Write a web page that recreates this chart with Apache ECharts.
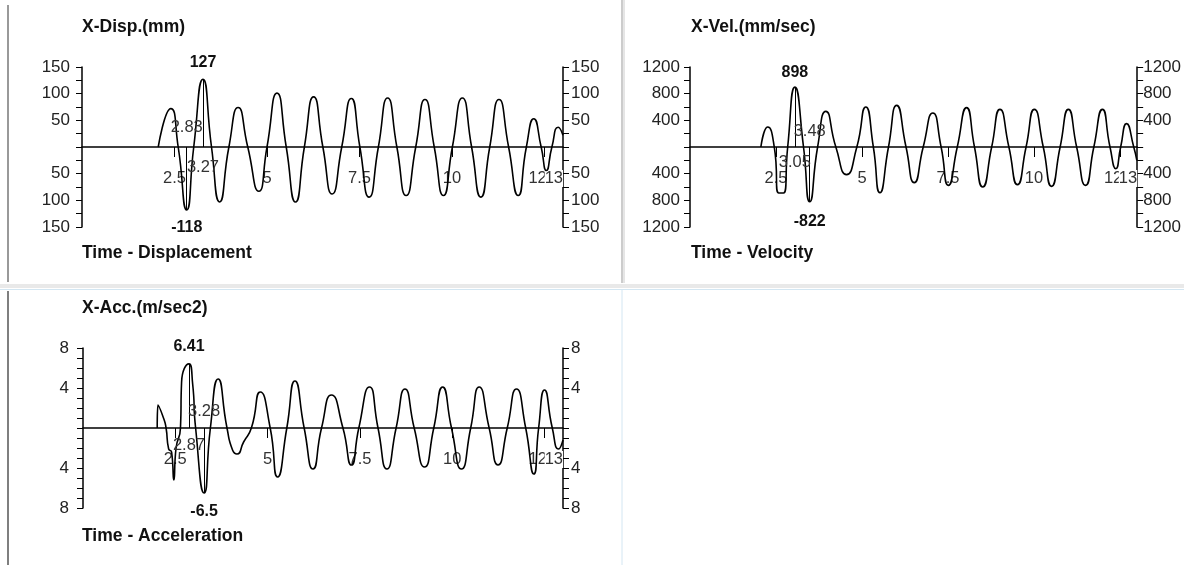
<!DOCTYPE html>
<html>
<head>
<meta charset="utf-8">
<title>Time history</title>
<script src="https://cdn.jsdelivr.net/npm/echarts@6.0.0/dist/echarts.min.js"></script>
<style>
  html, body { margin: 0; padding: 0; background: #fff; }
  #main { width: 1184px; height: 565px; }
</style>
</head>
<body>
<div id="main"></div>
<script>
// time axis labels; the end label 13 is drawn over 12.5, as in the original
var timeTicks = [2.5, 5, 7.5, 10, 12.5];
var timeEnd = 13;

// displacement (mm)
var dispT = [2.06, 2.40, 2.60, 2.83, 3.02, 3.27, 3.50, 3.72, 3.97, 4.22,
             4.48, 4.78, 5.00, 5.27, 5.52, 5.77, 6.01, 6.26, 6.51, 6.76,
             7.02, 7.28, 7.51, 7.76, 8.01, 8.26, 8.51, 8.76, 9.02, 9.27,
             9.52, 9.77, 10.01, 10.28, 10.53, 10.78, 11.02, 11.27, 11.53, 11.79,
             12.01, 12.21, 12.41, 12.55, 12.70, 12.87, 13.0];
var dispV = [0, 72, 0, -118, 0, 127, 0, -103, 0, 74,
             0, -83, 0, 101, 0, -103, 0, 94, 0, -88,
             0, 91, 0, -94, 0, 92, 0, -91, 0, 89,
             0, -91, 0, 92, 0, -94, 0, 89, 0, -91,
             0, 53, 0, -44, 0, 37, 22];

// velocity (mm/sec)
var velT = [2.06, 2.26, 2.45, 2.58, 2.72, 2.84, 3.05, 3.30, 3.48, 3.71,
            3.95, 4.24, 4.55, 4.85, 5.11, 5.33, 5.52, 5.77, 6.01, 6.28,
            6.52, 6.78, 7.06, 7.30, 7.51, 7.77, 8.04, 8.27, 8.51, 8.77,
            9.01, 9.27, 9.52, 9.77, 10.01, 10.27, 10.51, 10.76, 11.00, 11.24,
            11.50, 11.74, 11.99, 12.21, 12.38, 12.52, 12.69, 12.90, 12.99];
var velV = [0, 300, 0, -690, -690, 0, 898, 0, -822, 0,
            535, 0, -415, 0, 600, 0, -685, 0, 625, 0,
            -535, 0, 510, 0, -575, 0, 590, 0, -600, 0,
            565, 0, -565, 0, 565, 0, -590, 0, 565, 0,
            -575, 0, 565, 0, -325, 0, 350, 0, -200];

// acceleration (m/sec2)
var accT = [2.01, 2.03, 2.19, 2.25, 2.32, 2.40, 2.46, 2.52, 2.64, 2.67,
            2.87, 2.97, 3.05, 3.28, 3.45, 3.66, 3.90, 4.05, 4.17, 4.35,
            4.56, 4.80, 5.07, 5.27, 5.52, 5.74, 5.99, 6.23, 6.46, 6.73,
            7.04, 7.27, 7.47, 7.76, 7.99, 8.23, 8.48, 8.72, 8.97, 9.25,
            9.50, 9.74, 9.98, 10.25, 10.50, 10.73, 11.00, 11.24, 11.49, 11.74,
            11.99, 12.21, 12.34, 12.50, 12.71, 12.88, 13.0];
var accV = [0, 2.3, 0.9, 0, -2.1, -2.4, -5.2, -2.0, 0, 4.6,
            6.41, 4.4, 0, -6.5, 0, 4.9, 0, -2.2, -2.6, -1.4,
            0, 3.6, 0, -4.9, 0, 4.7, 0, -4.1, 0, 3.3,
            0, -3.7, 0, 4.1, 0, -4.1, 0, 3.9, 0, -3.9,
            0, 4.1, 0, -4.1, 0, 4.1, 0, -3.7, 0, 3.9,
            0, -4.6, 0, 3.8, 0, -2.1, -1.2];

var FONT = "'Liberation Sans', Arial, sans-serif";

function pairs(t, v) {
    return t.map(function (x, i) { return [x, v[i]]; });
}

function peaks(t, v) {
    var iMax = 0, iMin = 0;
    v.forEach(function (y, i) {
        if (y > v[iMax]) iMax = i;
        if (y < v[iMin]) iMin = i;
    });
    return {tMax: t[iMax], vMax: v[iMax], tMin: t[iMin], vMin: v[iMin]};
}

var panels = [
    {grid: {left: 82, top: 67, width: 481, height: 160}, lim: 150, step: 50, minor: 2,
     t: dispT, v: dispV, dist: [9, 10, 11, 12], lm: 12, rm: 8},
    {grid: {left: 690, top: 67, width: 448, height: 160}, lim: 1200, step: 400, minor: 2,
     t: velT, v: velV, dist: [7, 12, 7, 7], lm: 10, rm: 6},
    {grid: {left: 83, top: 348, width: 480, height: 160}, lim: 8, step: 4, minor: 4,
     t: accT, v: accV, dist: [9, 11, 8, 9], lm: 14, rm: 8}
];

function absLabel(v) { return v === 0 ? '' : String(Math.abs(v)); }

var grids = [], xAxes = [], yAxes = [], series = [];
panels.forEach(function (p, i) {
    grids.push(p.grid);
    // main time axis, lifted to the zero line
    xAxes.push({
        type: 'value', gridIndex: i, min: 0, max: timeEnd,
        position: 'bottom', offset: -p.grid.height / 2,
        axisLine: {show: true, onZero: false, lineStyle: {color: '#000', width: 1.5}},
        axisTick: {show: true, length: 10, customValues: timeTicks, lineStyle: {color: '#000'}},
        axisLabel: {
            show: true, customValues: timeTicks, margin: 23, color: '#333',
            fontFamily: FONT, fontSize: 16.5
        },
        splitLine: {show: false}
    });
    // only carries the end label, with a white box over 12.5
    xAxes.push({
        type: 'value', gridIndex: i, min: 0, max: timeEnd,
        position: 'top', offset: -p.grid.height / 2,
        axisLine: {show: false}, axisTick: {show: false},
        axisLabel: {
            show: true, inside: true, customValues: [timeEnd], margin: 23,
            showMaxLabel: true, align: 'right',
            formatter: function (v) { return '{end|' + v + '}'; },
            rich: {end: {backgroundColor: '#fff', fontFamily: FONT, fontSize: 16.5, color: '#333'}}
        },
        splitLine: {show: false}
    });
    ['left', 'right'].forEach(function (side) {
        yAxes.push({
            type: 'value', gridIndex: i, position: side,
            min: -p.lim, max: p.lim, interval: p.step,
            axisLine: {show: true, onZero: false, lineStyle: {color: '#000', width: 1.5}},
            axisTick: {show: true, length: 6, lineStyle: {color: '#000'}},
            minorTick: {show: true, splitNumber: p.minor, length: 6, lineStyle: {color: '#000'}},
            axisLabel: {
                show: true, margin: side === 'left' ? p.lm : p.rm, color: '#222',
                fontFamily: FONT, fontSize: 17, formatter: absLabel,
                showMinLabel: true, showMaxLabel: true
            },
            splitLine: {show: false}
        });
    });
    var pk = peaks(p.t, p.v);
    series.push({
        type: 'line', xAxisIndex: i * 2, yAxisIndex: i * 2,
        data: pairs(p.t, p.v), smooth: 0.6, showSymbol: false,
        lineStyle: {color: '#000', width: 1.6},
        markLine: {
            silent: true, symbol: ['none', 'none'], label: {show: false},
            lineStyle: {color: '#000', width: 1, type: 'solid'},
            data: [
                [{coord: [pk.tMax, 0]}, {coord: [pk.tMax, pk.vMax]}],
                [{coord: [pk.tMin, 0]}, {coord: [pk.tMin, pk.vMin]}]
            ]
        },
        markPoint: {
            symbol: 'circle', symbolSize: 0, silent: true,
            label: {show: true, formatter: '{c}', color: '#111', fontFamily: FONT, fontSize: 16.5},
            data: [
                {coord: [pk.tMax, pk.vMax], value: pk.vMax,
                 label: {position: 'top', distance: p.dist[0], fontWeight: 'bold', fontSize: 16}},
                {coord: [pk.tMin, pk.vMin], value: pk.vMin,
                 label: {position: 'bottom', distance: p.dist[1], fontWeight: 'bold', fontSize: 16}},
                {coord: [pk.tMin, 0], value: pk.tMin.toFixed(2),
                 label: {position: 'top', distance: p.dist[2], color: '#333'}},
                {coord: [pk.tMax, 0], value: pk.tMax.toFixed(2),
                 label: {position: 'bottom', distance: p.dist[3], color: '#333'}}
            ]
        }
    });
});

function heading(text, left, top) {
    return {text: text, left: left, top: top, padding: 0,
            textStyle: {fontFamily: FONT, fontSize: 17.5, fontWeight: 'bold', color: '#111'}};
}

var chart = echarts.init(document.getElementById('main'), null, {renderer: 'canvas'});
var option = {
    animation: false,
    backgroundColor: '#fff',
    title: [
        heading('X-Disp.(mm)', 82, 18),
        heading('Time - Displacement', 82, 244),
        heading('X-Vel.(mm/sec)', 691, 18),
        heading('Time - Velocity', 691, 244),
        heading('X-Acc.(m/sec2)', 82, 299),
        heading('Time - Acceleration', 82, 527)
    ],
    graphic: [
        {type: 'line', shape: {x1: 8, y1: 5, x2: 8, y2: 282}, style: {stroke: '#777', lineWidth: 1.5}},
        {type: 'line', shape: {x1: 622, y1: 0, x2: 622, y2: 283}, style: {stroke: '#999', lineWidth: 1}},
        {type: 'line', shape: {x1: 624, y1: 0, x2: 624, y2: 283}, style: {stroke: '#ccc', lineWidth: 1}},
        {type: 'rect', shape: {x: 0, y: 284, width: 1184, height: 4}, style: {fill: '#e9e9e9'}},
        {type: 'line', shape: {x1: 0, y1: 289.5, x2: 1184, y2: 289.5}, style: {stroke: '#d3e6f2', lineWidth: 1}},
        {type: 'line', shape: {x1: 8, y1: 291, x2: 8, y2: 565}, style: {stroke: '#555', lineWidth: 1.5}},
        {type: 'line', shape: {x1: 622, y1: 290, x2: 622, y2: 565}, style: {stroke: '#d3e6f2', lineWidth: 1}}
    ],
    grid: grids,
    xAxis: xAxes,
    yAxis: yAxes,
    series: series
};
chart.setOption(option);
</script>
</body>
</html>
